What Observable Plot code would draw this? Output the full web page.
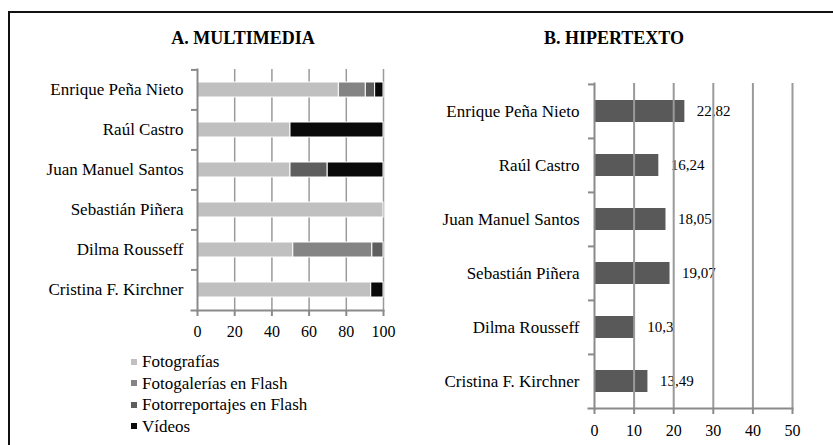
<!DOCTYPE html>
<html>
<head>
<meta charset="utf-8">
<script src="https://cdn.jsdelivr.net/npm/d3@7"></script>
<script src="https://cdn.jsdelivr.net/npm/@observablehq/plot@0.6"></script>
<style>
  html, body { margin: 0; padding: 0; background: #fff; }
  body { width: 833px; height: 445px; position: relative; overflow: hidden; font-family: "Liberation Serif", "Times New Roman", serif; color: #000; }
  .box { position: absolute; left: 8px; top: 11px; width: 900px; height: 500px; border-top: 2px solid #111; border-left: 2px solid #111; }
  .title { position: absolute; top: 29px; font-weight: bold; font-size: 18px; line-height: 18px; white-space: nowrap; transform: translateX(-50%); }
  .chart { position: absolute; top: 0; }
  .legend { position: absolute; left: 131px; top: 351px; font-size: 17px; line-height: 21.5px; }
  .legend div { display: flex; align-items: center; white-space: nowrap; }
  .legend span.sw { display: inline-block; width: 6px; height: 6px; margin-right: 5px; }
</style>
</head>
<body>
<div class="box"></div>
<div class="title" style="left:243px">A. MULTIMEDIA</div>
<div class="title" style="left:614px">B. HIPERTEXTO</div>
<div id="a" class="chart" style="left:0"></div>
<div id="b" class="chart" style="left:420px"></div>
<div id="legend" class="legend"></div>
<script>
const names = ["Enrique Peña Nieto", "Raúl Castro", "Juan Manuel Santos", "Sebastián Piñera", "Dilma Rousseff", "Cristina F. Kirchner"];
const seriesNames = ["Fotografías", "Fotogalerías en Flash", "Fotorreportajes en Flash", "Vídeos"];
const seriesColors = ["#c0c0c0", "#848484", "#5e5e5e", "#0a0a0a"];
const fotografias = [76, 50, 50, 100, 51.5, 93.4];
const fotogalerias = [14.5, 0, 0, 0, 42.5, 0];
const fotorreportajes = [5, 0, 20, 0, 6, 0];
const videos = [4.5, 50, 30, 0, 0, 6.6];
const hipertexto = [22.82, 16.24, 18.05, 19.07, 10.3, 13.49];
const ticksA = [0, 20, 40, 60, 80, 100];
const ticksB = [0, 10, 20, 30, 40, 50];

const seriesValues = [fotografias, fotogalerias, fotorreportajes, videos];
const dataA = [];
names.forEach((n, i) => {
  seriesNames.forEach((s, j) => {
    const v = seriesValues[j][i];
    if (v > 0) dataA.push({name: n, series: s, value: v});
  });
});
const dataB = names.map((n, i) => ({name: n, value: hipertexto[i]}));

const axisGray = "#8a8a8a";
const gridGray = "#9a9a9a";
const font = "'Liberation Serif', 'Times New Roman', serif";

// Chart A
{
  const top = 69, bottom = 310, H = 340;
  const step = (bottom - top) / names.length;
  const chart = Plot.plot({
    width: 420, height: H,
    marginLeft: 197, marginRight: 37, marginTop: top, marginBottom: H - bottom,
    style: {fontFamily: font, background: "transparent", color: "#000"},
    x: {domain: [0, 100], axis: null, label: null},
    y: {domain: names, paddingInner: 0.63, paddingOuter: 0.315, axis: null, label: null},
    color: {domain: seriesNames, range: seriesColors},
    marks: [
      Plot.ruleX(ticksA.slice(1), {stroke: gridGray, strokeWidth: 1.5}),
      Plot.barX(dataA, {y: "name", x: "value", fill: "series", stroke: "white", strokeWidth: 1}),
      Plot.frame({anchor: "left", stroke: axisGray, strokeWidth: 2}),
      Plot.frame({anchor: "bottom", stroke: axisGray, strokeWidth: 2, insetLeft: -6}),
      Plot.axisY({tickSize: 0, tickPadding: 14, fontSize: 17, label: null}),
      Plot.axisY({tickSize: 6, tickFormat: () => "", dy: -step / 2, stroke: axisGray, strokeWidth: 2, label: null}),
      Plot.axisX({ticks: ticksA, tickSize: 6, tickPadding: 9, fontSize: 16, stroke: axisGray, strokeWidth: 2, fill: "#000", label: null})
    ]
  });
  document.getElementById("a").appendChild(chart);
}

// Chart B
{
  const top = 83, bottom = 408, H = 445;
  const step = (bottom - top) / names.length;
  const chart = Plot.plot({
    width: 413, height: H,
    marginLeft: 174, marginRight: 41, marginTop: top, marginBottom: H - bottom,
    style: {fontFamily: font, background: "transparent", color: "#000"},
    x: {domain: [0, 50], axis: null, label: null},
    y: {domain: names, paddingInner: 0.594, paddingOuter: 0.297, axis: null, label: null},
    marks: [
      Plot.barX(dataB, {y: "name", x: "value", fill: "#595959"}),
      Plot.text(dataB, {y: "name", x: "value", text: d => String(d.value).replace(".", ","), textAnchor: "start", dx: 12, fontSize: 15, fill: "#000"}),
      Plot.ruleX(ticksB.slice(1), {stroke: gridGray, strokeWidth: 2}),
      Plot.frame({anchor: "left", stroke: axisGray, strokeWidth: 2}),
      Plot.frame({anchor: "bottom", stroke: axisGray, strokeWidth: 2, insetLeft: -6}),
      Plot.axisY({tickSize: 0, tickPadding: 15, fontSize: 17, label: null}),
      Plot.axisY({tickSize: 6, tickFormat: () => "", dy: -step / 2, stroke: axisGray, strokeWidth: 2, label: null}),
      Plot.axisX({ticks: ticksB, tickSize: 6, tickPadding: 10, fontSize: 16, stroke: axisGray, strokeWidth: 2, fill: "#000", label: null})
    ]
  });
  document.getElementById("b").appendChild(chart);
}

// Legend
const legend = document.getElementById("legend");
seriesNames.forEach((s, i) => {
  const row = document.createElement("div");
  const sw = document.createElement("span");
  sw.className = "sw";
  sw.style.background = seriesColors[i];
  row.appendChild(sw);
  row.appendChild(document.createTextNode(s));
  legend.appendChild(row);
});
</script>
</body>
</html>
